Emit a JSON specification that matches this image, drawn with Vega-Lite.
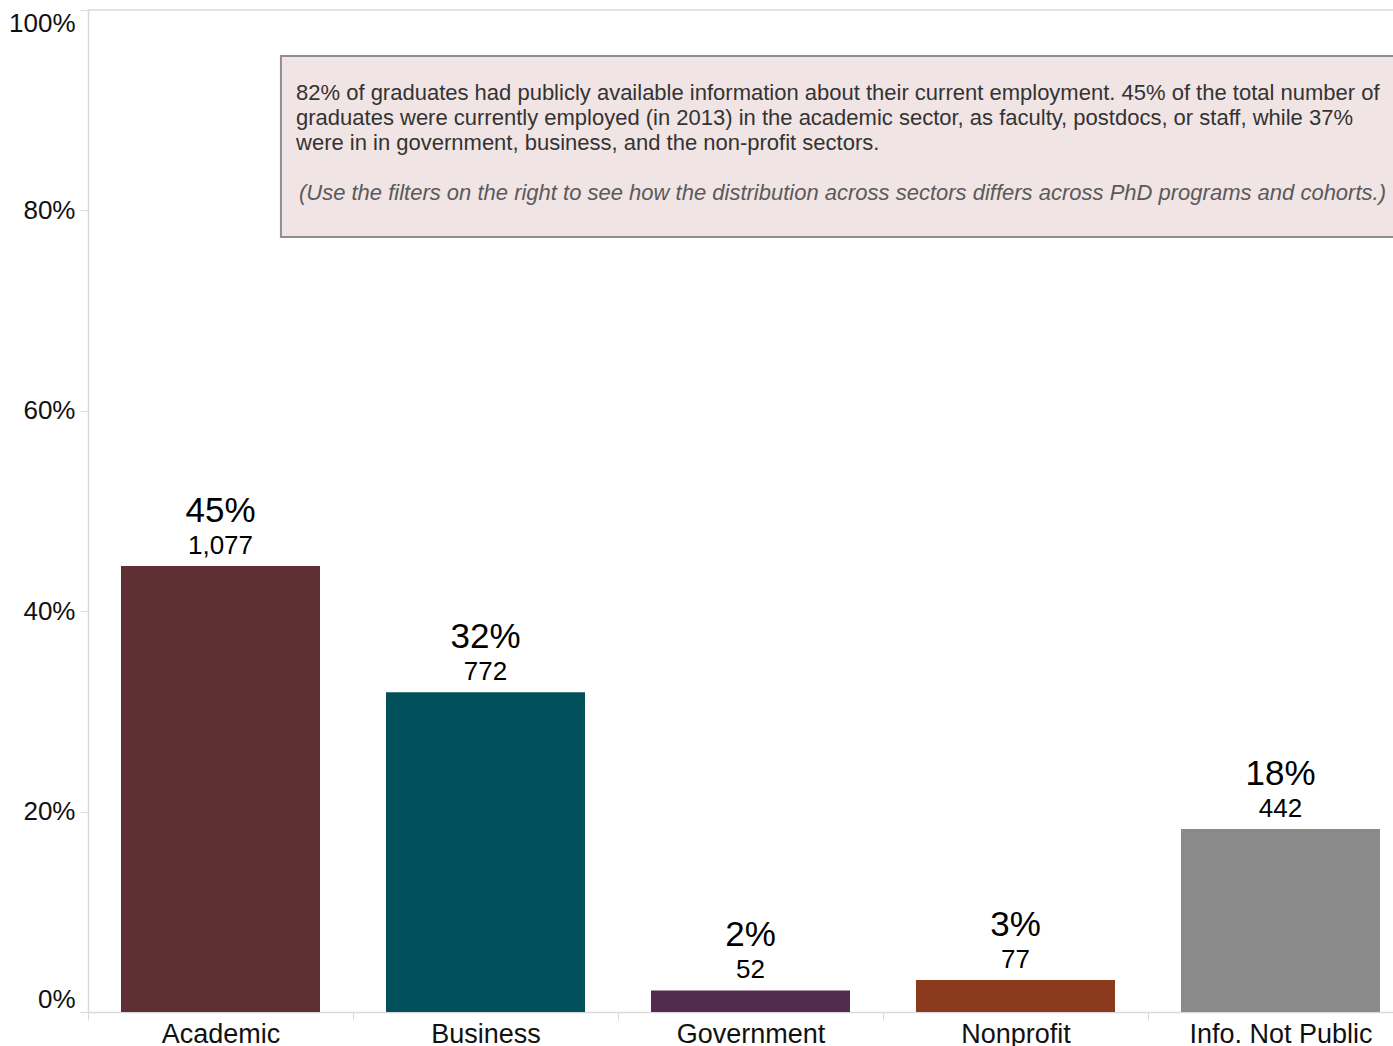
{
  "$schema": "https://vega.github.io/schema/vega-lite/v6.json",
  "width": 1305,
  "height": 1002,
  "autosize": {"type": "none"},
  "padding": {"left": 88, "top": 10, "right": 0, "bottom": 34},
  "background": "white",
  "config": {
    "view": {"stroke": null},
    "font": "Liberation Sans",
    "axis": {"labelFont": "Liberation Sans", "domainColor": "#d9d9d9", "tickColor": "#d9d9d9", "grid": false, "labelColor": "#111111", "labelLimit": 0}
  },
  "data": {
    "values": [
      {"sector": "Academic", "count": 1077, "pct": 0.44504},
      {"sector": "Business", "count": 772, "pct": 0.31901},
      {"sector": "Government", "count": 52, "pct": 0.02149},
      {"sector": "Nonprofit", "count": 77, "pct": 0.03182},
      {"sector": "Info. Not Public", "count": 442, "pct": 0.18264}
    ]
  },
  "layer": [
    {
      "mark": {"type": "rule", "color": "#d9d9d9", "strokeWidth": 1.5},
      "data": {"values": [{}]},
      "encoding": {"y": {"datum": 1, "type": "quantitative"}}
    },
    {
      "mark": {"type": "bar", "width": {"band": 0.751}},
      "encoding": {
        "x": {
          "field": "sector", "type": "nominal",
          "sort": ["Academic", "Business", "Government", "Nonprofit", "Info. Not Public"],
          "scale": {"range": [0, 1325], "paddingInner": 0, "paddingOuter": 0},
          "axis": {"title": null, "labelAngle": 0, "labelFontSize": 27, "labelPadding": 1, "labelLimit": 0, "tickSize": 8, "tickBand": "extent", "domainWidth": 1.5}
        },
        "y": {
          "field": "pct", "type": "quantitative",
          "scale": {"domain": [0, 1]},
          "axis": {"title": null, "values": [0, 0.2, 0.4, 0.6, 0.8, 1], "format": ".0%", "labelFontSize": 26, "labelPadding": 5, "tickSize": 8, "labelFlush": true, "domainWidth": 1.5}
        },
        "color": {
          "field": "sector", "type": "nominal", "legend": null,
          "scale": {
            "domain": ["Academic", "Business", "Government", "Nonprofit", "Info. Not Public"],
            "range": ["#5e3033", "#02505b", "#532a50", "#8c3a1e", "#8a8a8a"]
          }
        }
      }
    },
    {
      "mark": {"type": "text", "fontSize": 35, "baseline": "alphabetic", "dy": -44, "color": "#000000"},
      "encoding": {
        "x": {"field": "sector", "type": "nominal", "sort": ["Academic", "Business", "Government", "Nonprofit", "Info. Not Public"], "scale": {"range": [0, 1325], "paddingInner": 0, "paddingOuter": 0}, "axis": null},
        "y": {"field": "pct", "type": "quantitative"},
        "text": {"field": "pct", "type": "quantitative", "format": ".0%"}
      }
    },
    {
      "mark": {"type": "text", "fontSize": 26, "baseline": "alphabetic", "dy": -12, "color": "#000000"},
      "encoding": {
        "x": {"field": "sector", "type": "nominal", "sort": ["Academic", "Business", "Government", "Nonprofit", "Info. Not Public"], "scale": {"range": [0, 1325], "paddingInner": 0, "paddingOuter": 0}, "axis": null},
        "y": {"field": "pct", "type": "quantitative"},
        "text": {"field": "count", "type": "quantitative", "format": ",d"}
      }
    },
    {
      "mark": {"type": "rect", "fill": "#f1e4e4", "stroke": "#8f8f8f", "strokeWidth": 2},
      "data": {"values": [{}]},
      "encoding": {
        "x": {"datum": 0.728, "type": "quantitative", "scale": {"domain": [0, 5], "range": [0, 1325]}, "axis": null},
        "x2": {"datum": 5.3},
        "y": {"datum": 0.9541, "type": "quantitative"},
        "y2": {"datum": 0.7735}
      }
    },
    {
      "mark": {"type": "text", "fontSize": 22, "align": "left", "baseline": "alphabetic", "lineHeight": 25, "color": "#333333"},
      "data": {"values": [{"note": ["82% of graduates had publicly available information about their current employment. 45% of the total number of", "graduates were currently employed (in 2013) in the academic sector, as faculty, postdocs, or staff, while 37%", "were in in government, business, and the non-profit sectors."]}]},
      "encoding": {
        "x": {"datum": 0.785, "type": "quantitative", "scale": {"domain": [0, 5], "range": [0, 1325]}, "axis": null},
        "y": {"datum": 0.9102, "type": "quantitative"},
        "text": {"field": "note"}
      }
    },
    {
      "mark": {"type": "text", "fontSize": 22, "fontStyle": "italic", "align": "left", "baseline": "alphabetic", "color": "#5a5a5a"},
      "data": {"values": [{"note": "(Use the filters on the right to see how the distribution across sectors differs across PhD programs and cohorts.)"}]},
      "encoding": {
        "x": {"datum": 0.796, "type": "quantitative", "scale": {"domain": [0, 5], "range": [0, 1325]}, "axis": null},
        "y": {"datum": 0.8104, "type": "quantitative"},
        "text": {"field": "note"}
      }
    }
  ],
  "resolve": {"scale": {"x": "independent"}}
}
